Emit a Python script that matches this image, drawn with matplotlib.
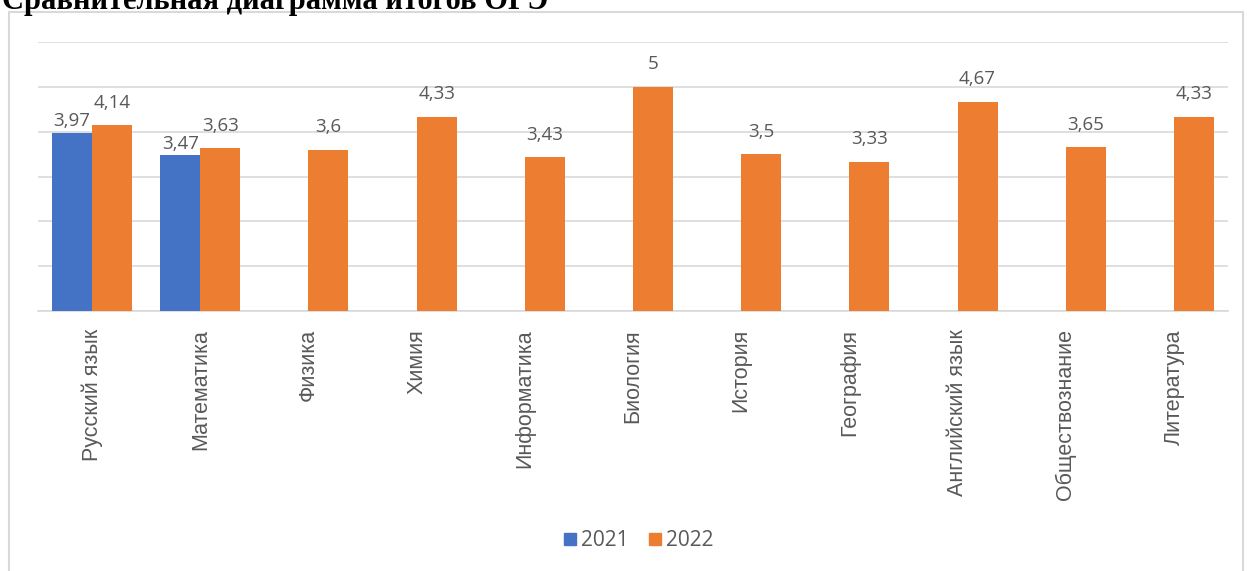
import numpy as np
import matplotlib.pyplot as plt
from matplotlib.patches import Rectangle

# data
subjects = ['Русский язык', 'Математика', 'Физика', 'Химия', 'Информатика',
            'Биология', 'История', 'География', 'Английский язык',
            'Обществознание', 'Литература']
scores_2021 = [3.97, 3.47, None, None, None, None, None, None, None, None, None]
scores_2022 = [4.14, 3.63, 3.6, 4.33, 3.43, 5, 3.5, 3.33, 4.67, 3.65, 4.33]

blue = '#4472c4'
orange = '#ed7d31'
grey_txt = '#595959'

W, H = 1247, 571
fig = plt.figure(figsize=(W / 100, H / 100), dpi=100)

# chart frame
fig.patches.append(Rectangle((9 / W, -0.05), (1243 - 9) / W, 1.05 - 12 / H,
                             transform=fig.transFigure, facecolor='none',
                             edgecolor='#d9d9d9', lw=1.5, zorder=0))

# title, cut at the top like in the screenshot
fig.text(2 / W, 1 - 9 / H, 'Сравнительная диаграмма итогов ОГЭ',
         family='Liberation Serif', weight='bold', fontsize=22,
         va='baseline', ha='left', color='black')

ax = fig.add_axes([38 / W, 1 - 311 / H, (1228 - 38) / W, (311 - 42) / H])
x = np.arange(len(subjects))
bw = 0.37

def fmt(v):
    return '{:g}'.format(v).replace('.', ',')

for i in x:
    if scores_2021[i] is not None:
        ax.bar(i - bw / 2, scores_2021[i], bw, color=blue, zorder=3)
        ax.text(i - bw / 2, scores_2021[i] + 0.06, fmt(scores_2021[i]),
                ha='center', va='bottom', fontsize=13.5, color=grey_txt,
                family='Open Sans')
    ax.bar(i + bw / 2, scores_2022[i], bw, color=orange, zorder=3)
    ax.text(i + bw / 2, scores_2022[i] + 0.3, fmt(scores_2022[i]),
            ha='center', va='bottom', fontsize=13.5, color=grey_txt,
            family='Open Sans')

ax.set_xlim(-0.5, len(subjects) - 0.5)
ax.set_ylim(0, 6)
ax.set_yticks(np.arange(0, 7, 1))
ax.set_yticklabels([])
ax.yaxis.grid(True, color='#d9d9d9', lw=1.2, zorder=0)
ax.tick_params(axis='y', length=0)
ax.set_xticks(x)
ax.set_xticklabels(subjects, rotation=90, fontsize=15.5, color=grey_txt,
                   family='Liberation Sans', va='top')
ax.tick_params(axis='x', length=0, pad=13)
for s in ['top', 'right', 'left']:
    ax.spines[s].set_visible(False)
ax.spines['bottom'].set_color('#d9d9d9')
ax.spines['bottom'].set_linewidth(1.2)
ax.set_facecolor('none')

# legend
h1 = plt.Rectangle((0, 0), 1, 1, color=blue)
h2 = plt.Rectangle((0, 0), 1, 1, color=orange)
fig.legend([h1, h2], ['2021', '2022'], loc='center', bbox_to_anchor=(639 / W, 1 - 541 / H),
           ncol=2, frameon=False, handlelength=0.55, handleheight=0.55,
           handletextpad=0.25, columnspacing=1.0, prop={'family': 'Open Sans', 'size': 15},
           labelcolor=grey_txt)

plt.savefig('out.png', dpi=100)
